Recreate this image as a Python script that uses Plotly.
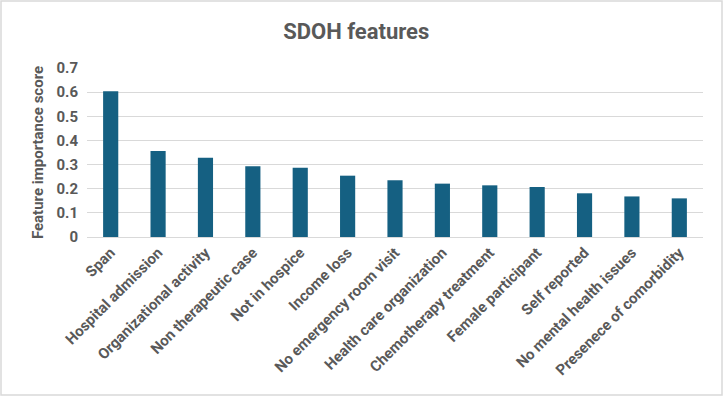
import plotly.graph_objects as go

categories = ["Span", "Hospital admission", "Organizational activity", "Non therapeutic case",
              "Not in hospice", "Income loss", "No emergency room visit", "Health care organization",
              "Chemotherapy treatment", "Female participant", "Self reported",
              "No mental health issues", "Presenece of comorbidity"]
scores = [0.604, 0.356, 0.328, 0.293, 0.287, 0.254, 0.235, 0.221, 0.214, 0.207, 0.181, 0.168, 0.160]
y_ticks = [0, 0.1, 0.2, 0.3, 0.4, 0.5, 0.6, 0.7]
y_ticklabels = ["0", "0.1", "0.2", "0.3", "0.4", "0.5", "0.6", "0.7"]

FONT = "Roboto, Arial, sans-serif"
GRAY = "#595959"

L, R, T, B = 87, 21, 68, 160
W, H = 724, 397
pw, ph = W - L - R, H - T - B

fig = go.Figure(go.Bar(x=categories, y=scores, marker=dict(color="#156082", line=dict(width=0))))

fig.update_layout(
    width=W, height=H,
    margin=dict(l=L, r=R, t=T, b=B),
    paper_bgcolor="white", plot_bgcolor="white",
    bargap=0.68,
    title=dict(text="<b>SDOH features</b>", x=0.492, xanchor="center", y=0.92, yanchor="middle",
               font=dict(family=FONT, size=22, color=GRAY)),
    font=dict(family=FONT, color=GRAY),
    showlegend=False,
)
fig.update_xaxes(tickangle=-45, tickfont=dict(family=FONT, size=15, color=GRAY, weight="bold"),
                 showline=True, linecolor="#d9d9d9", ticks="", showgrid=False)
fig.update_yaxes(range=[0, 0.7], tickvals=y_ticks, ticktext=y_ticklabels,
                 tickfont=dict(family=FONT, size=15, color=GRAY, weight="bold"),
                 showgrid=True, gridcolor="#d9d9d9", gridwidth=1, zeroline=False,
                 ticklabelstandoff=8,
                 title=dict(text="<b>Feature importance score</b>", font=dict(family=FONT, size=15, color=GRAY), standoff=9),
                 ticks="", ticklen=0)
fig.add_shape(type="rect", xref="paper", yref="paper",
              x0=(1 - L) / pw, x1=(W - 2 - L) / pw,
              y0=(T + ph - (H - 2)) / ph, y1=(T + ph - 1) / ph,
              line=dict(width=1.5, color="#d9d9d9"), layer="below")
fig.write_html("out.html")
